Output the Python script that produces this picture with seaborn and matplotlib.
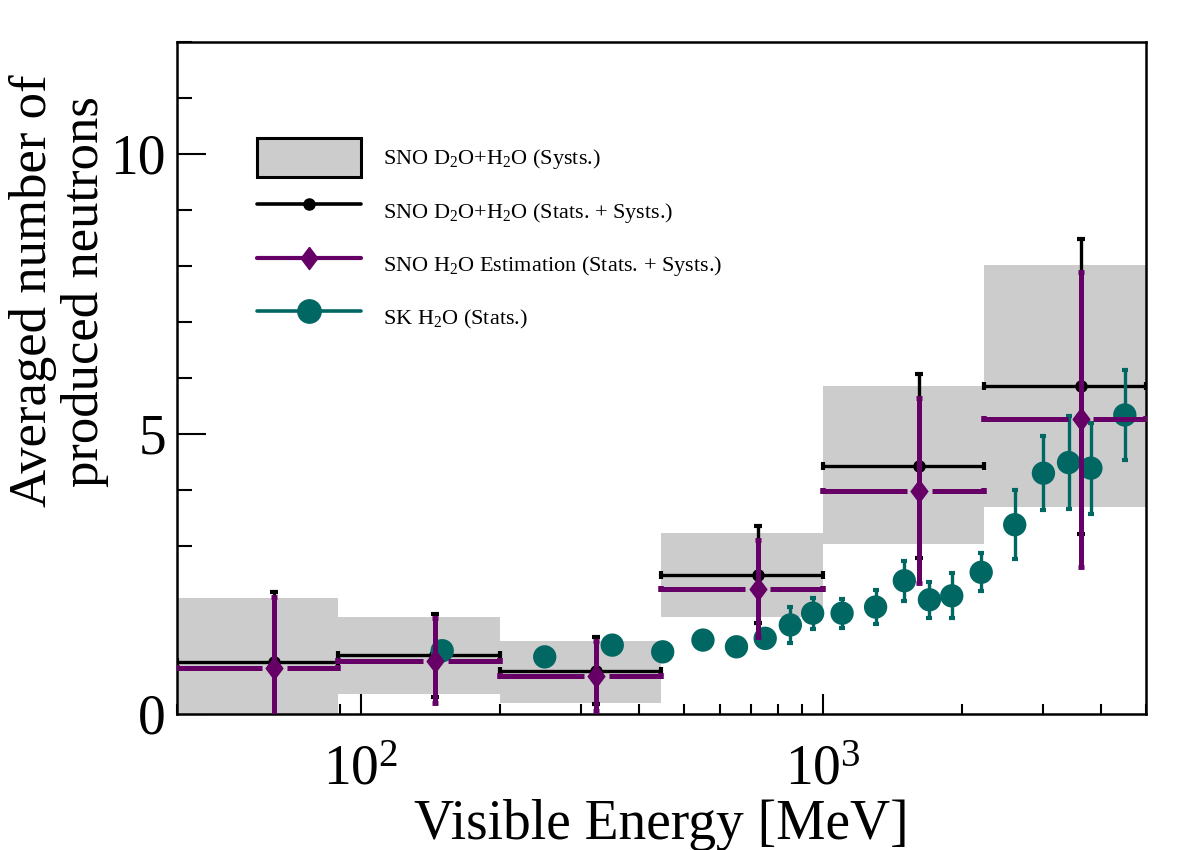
import numpy as np
import matplotlib
matplotlib.use("Agg")
import matplotlib.pyplot as plt
from matplotlib.lines import Line2D
from matplotlib.patches import Patch
from matplotlib.ticker import LogLocator, MultipleLocator, NullFormatter
import seaborn as sns

# SNO bins (log-equal) and systematic bands
bin_edges = [40, 89.4, 200, 447, 1000, 2236, 5000]
syst_low = [-0.22, 0.36, 0.20, 1.74, 3.04, 3.69]
syst_high = [2.08, 1.73, 1.31, 3.24, 5.85, 8.02]

# SNO D2O+H2O (stats + systs)
sno_energy = [65, 145, 323, 723, 1615, 3614]
sno_mean = [0.93, 1.05, 0.77, 2.49, 4.43, 5.85]
sno_err = [1.25, 0.74, 0.60, 0.87, 1.64, 2.63]

# SNO H2O estimation (stats + systs)
h2o_mean = [0.83, 0.95, 0.68, 2.24, 3.99, 5.26]
h2o_err = [1.26, 0.76, 0.63, 0.87, 1.65, 2.64]

# SK H2O (stats)
sk_energy = [150, 250, 350, 450, 550, 650, 750, 850, 950, 1100,
             1300, 1500, 1700, 1900, 2200, 2600, 3000, 3400, 3800, 4500]
sk_mean = [1.13, 1.02, 1.23, 1.11, 1.32, 1.20, 1.35, 1.59, 1.80, 1.80,
           1.91, 2.38, 2.04, 2.11, 2.53, 3.38, 4.30, 4.49, 4.39, 5.34]
sk_err = [0.08, 0.08, 0.10, 0.10, 0.12, 0.14, 0.16, 0.32, 0.28, 0.26,
          0.30, 0.36, 0.32, 0.40, 0.34, 0.62, 0.66, 0.83, 0.81, 0.80]

GREY = "#cccccc"
PURPLE = "#660066"
TEAL = "#006763"
DIAMOND = [(0, 1), (0.75, 0), (0, -1), (-0.75, 0), (0, 1)]

sns.set_theme(style="white")
plt.rcParams["font.family"] = ["Liberation Serif", "DejaVu Serif"]
plt.rcParams["mathtext.fontset"] = "custom"
plt.rcParams["mathtext.rm"] = "Liberation Serif"
plt.rcParams["mathtext.it"] = "Liberation Serif:italic"
plt.rcParams["mathtext.bf"] = "Liberation Serif:bold"

fig = plt.figure(figsize=(11.82, 8.5), dpi=100)
ax = fig.add_axes([0.1497, 0.16, 0.8198, 0.7906])

lefts = np.array(bin_edges[:-1])
rights = np.array(bin_edges[1:])
centres = np.array(sno_energy)

# systematic boxes
ax.bar(lefts, np.array(syst_high) - np.array(syst_low), width=rights - lefts,
       bottom=syst_low, align="edge", color=GREY, linewidth=0, zorder=1)

# SNO D2O+H2O
ax.errorbar(sno_energy, sno_mean, xerr=[centres - lefts, rights - centres],
            yerr=sno_err, fmt="o", color="black", ms=8, elinewidth=2.4,
            capsize=3, capthick=3, zorder=2)

# SK H2O
ax.errorbar(sk_energy, sk_mean, yerr=sk_err, fmt="none", ecolor=TEAL,
            elinewidth=2.4, capsize=2.5, capthick=3, zorder=3)
sns.scatterplot(x=sk_energy, y=sk_mean, s=16.8 ** 2, color=TEAL,
                edgecolor="none", linewidth=0, zorder=3.5, ax=ax, legend=False)

# SNO H2O estimation (horizontal bar leaves a gap round the marker)
gap = 1.065
ax.hlines(h2o_mean, lefts, centres / gap, color=PURPLE, lw=3.6, zorder=4)
ax.hlines(h2o_mean, centres * gap, rights, color=PURPLE, lw=3.6, zorder=4)
ax.plot(np.r_[lefts, rights], np.r_[h2o_mean, h2o_mean], ls="none",
        marker="|", ms=5, mew=4, color=PURPLE, zorder=4)
ax.errorbar(sno_energy, h2o_mean, yerr=h2o_err, fmt="none", ecolor=PURPLE,
            elinewidth=3.6, capsize=2.2, capthick=3.5, zorder=4)
ax.plot(sno_energy, h2o_mean, ls="none", marker=DIAMOND, ms=16,
        color=PURPLE, zorder=4.5)

# axes
ax.set_xscale("log")
ax.set_xlim(40, 5000)
ax.set_ylim(0, 12)
ax.xaxis.set_major_locator(LogLocator(base=10))
ax.xaxis.set_minor_locator(LogLocator(base=10, subs=np.arange(2, 10)))
ax.xaxis.set_minor_formatter(NullFormatter())
ax.yaxis.set_major_locator(MultipleLocator(5))
ax.yaxis.set_minor_locator(MultipleLocator(1))

ax.tick_params(which="both", direction="in", bottom=True, left=True,
               top=False, right=False, color="black", labelcolor="black",
               width=1.5, labelsize=40)
ax.tick_params(axis="x", which="major", length=14.5, pad=22)
ax.tick_params(axis="x", which="minor", length=7.2)
ax.tick_params(axis="y", which="major", length=21, pad=8)
ax.tick_params(axis="y", which="minor", length=10.5)
for sp in ax.spines.values():
    sp.set_color("black")
    sp.set_linewidth(1.8)

ax.set_xlabel("Visible Energy [MeV]", fontsize=40, color="black")
ax.xaxis.set_label_coords(0.5, -0.126)
fig.text(0.050, 0.912, "Averaged number of\nproduced neutrons", rotation=90,
         ha="center", va="top", multialignment="center", fontsize=38,
         linespacing=1.1, color="black")

handles = [
    Patch(facecolor=GREY, edgecolor="black", linewidth=2.2),
    Line2D([], [], color="black", lw=2.6, marker="o", ms=8),
    Line2D([], [], color=PURPLE, lw=3, marker=DIAMOND, ms=16),
    Line2D([], [], color=TEAL, lw=2.6, marker="o", ms=16.8),
]
labels = [
    "SNO D$_2$O+H$_2$O (Systs.)",
    "SNO D$_2$O+H$_2$O (Stats. + Systs.)",
    "SNO H$_2$O Estimation (Stats. + Systs.)",
    "SK H$_2$O (Stats.)",
]
fig.legend(handles, labels, loc="upper left",
           bbox_to_anchor=(257 / 1182, 1 - 138 / 850), frameon=False,
           fontsize=16, handlelength=4.68, handleheight=2.3,
           labelspacing=0.66, handletextpad=1.0, borderpad=0,
           borderaxespad=0, labelcolor="black")

fig.savefig("out.png", dpi=100)
